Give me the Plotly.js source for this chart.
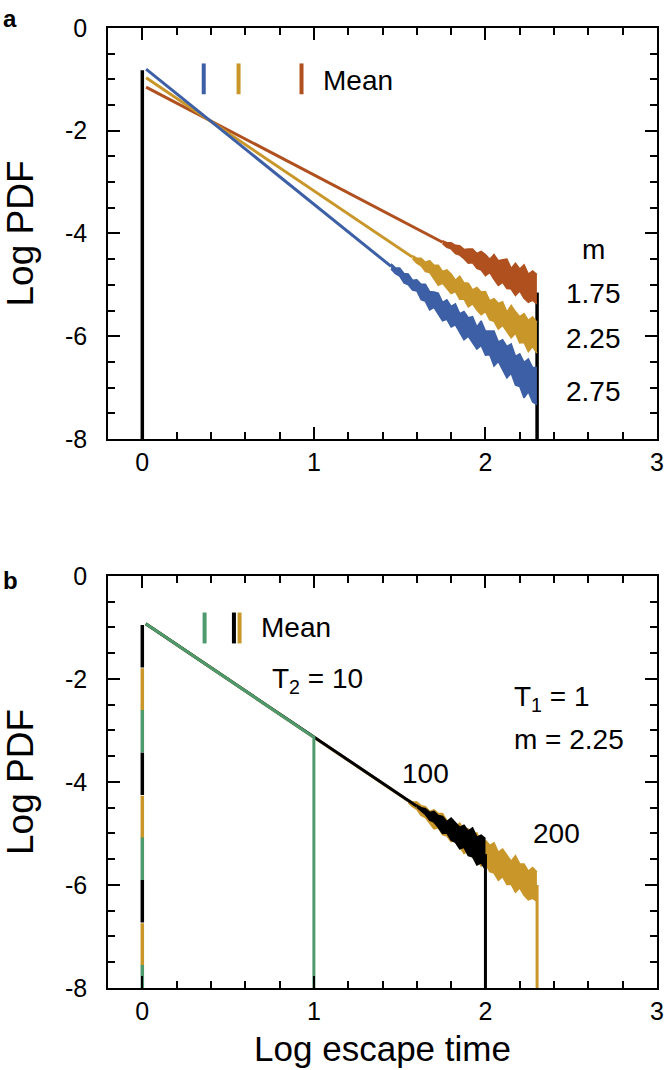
<!DOCTYPE html>
<html>
<head>
<meta charset="utf-8">
<script src="https://cdn.plot.ly/plotly-3.0.1.min.js"></script>
<style>
  body { margin: 0; background: #fff; }
  #myDiv { width: 666px; height: 1070px; }
</style>
</head>
<body>
<div id="myDiv"></div>
<script>
// ---- panel a: mean lines for m = 2.75 (blue), 2.25 (yellow), 1.75 (orange)
const blueX = [0.022, 1.45];
const blueY = [-0.80, -4.64];
const blueBandX0 = 1.45;
const blueUpper = [-4.59, -4.67, -4.67, -4.78, -4.79, -4.91, -4.90, -4.99, -4.99, -5.13,
  -5.14, -5.16, -5.34, -5.29, -5.42, -5.37, -5.56, -5.52, -5.64, -5.62,
  -5.82, -5.70, -5.90, -5.90, -5.90, -6.11, -6.07, -6.20, -6.15, -6.39,
  -6.34, -6.51, -6.44, -6.61, -6.61];
const blueLower = [-4.69, -4.78, -4.83, -4.96, -5.00, -5.10, -5.12, -5.29, -5.32, -5.49,
  -5.44, -5.58, -5.70, -5.67, -5.82, -5.78, -5.93, -6.07, -6.00, -6.12,
  -6.25, -6.18, -6.37, -6.36, -6.58, -6.49, -6.66, -6.81, -6.72, -6.95,
  -6.98, -7.20, -7.08, -7.28, -7.33];

const yellowX = [0.022, 1.575];
const yellowY = [-0.97, -4.46];
const yellowBandX0 = 1.575;
const yellowUpper = [-4.43, -4.48, -4.48, -4.56, -4.53, -4.62, -4.62, -4.74, -4.71, -4.79,
  -4.91, -4.83, -4.96, -4.97, -5.10, -5.05, -5.14, -5.13, -5.31, -5.27,
  -5.36, -5.33, -5.53, -5.40, -5.52, -5.62, -5.56, -5.69, -5.62, -5.73];
const yellowLower = [-4.49, -4.58, -4.63, -4.74, -4.76, -4.88, -5.01, -4.97, -5.06, -5.17,
  -5.13, -5.28, -5.28, -5.43, -5.37, -5.49, -5.58, -5.52, -5.68, -5.71,
  -5.86, -5.79, -5.91, -6.03, -5.94, -6.13, -6.12, -6.30, -6.20, -6.33];

const orangeX = [0.022, 1.75];
const orangeY = [-1.15, -4.17];
const orangeBandX0 = 1.75;
const orangeUpper = [-4.14, -4.18, -4.18, -4.23, -4.24, -4.31, -4.30, -4.30, -4.39, -4.35,
  -4.41, -4.50, -4.41, -4.53, -4.51, -4.50, -4.68, -4.58, -4.69, -4.61,
  -4.79, -4.73, -4.80];
const orangeLower = [-4.20, -4.27, -4.30, -4.39, -4.42, -4.49, -4.58, -4.57, -4.68, -4.71,
  -4.82, -4.76, -4.89, -5.01, -4.95, -5.07, -5.08, -5.21, -5.12, -5.26,
  -5.34, -5.30, -5.37];

const bandStep = 0.025;

// black edges of the distributions in panel a
const edgeA0X = [0, 0];
const edgeA0Y = [-8, -0.82];
const edgeA1X = [2.301, 2.301];
const edgeA1Y = [-8, -5.15];

// legend bars panel a
const legAX = [0.358, 0.561, 0.928];
const legAY = [-0.69, -1.29];

// m labels panel a
const mLabels = ['m', '1.75', '2.25', '2.75'];
const mLabelY = [-4.32, -5.16, -6.04, -7.08];

// ---- panel b: m = 2.25, T1 = 1, T2 = 10 (green), 100 (black), 200 (yellow)
const greenX = [0.02, 1.0, 1.0];
const greenY = [-0.93, -3.13, -8];

const blackX = [0.02, 1.6];
const blackY = [-0.93, -4.47];
const blackBandX0 = 1.6;
const blackUpper = [-4.45, -4.50, -4.52, -4.59, -4.57, -4.65, -4.67, -4.77, -4.70, -4.80,
  -4.88, -4.84, -4.95, -4.89, -5.07, -5.03, -5.10];
const blackLower = [-4.49, -4.57, -4.63, -4.74, -4.78, -4.88, -5.00, -4.99, -5.13, -5.17,
  -5.30, -5.27, -5.43, -5.45, -5.61, -5.57, -5.70];
const blackDropX = [2.0, 2.0];
const blackDropY = [-5.40, -8];

const yellowBX = [0.02, 1.55];
const yellowBY = [-0.93, -4.365];
const yellowBBandX0 = 1.55;
const yellowBUpper = [-4.34, -4.39, -4.39, -4.46, -4.48, -4.57, -4.54, -4.61, -4.61, -4.75,
  -4.75, -4.87, -4.80, -4.93, -4.91, -5.01, -4.99, -5.18, -5.13, -5.23,
  -5.18, -5.36, -5.30, -5.41, -5.54, -5.43, -5.59, -5.59, -5.73, -5.66,
  -5.75];
const yellowBLower = [-4.40, -4.48, -4.53, -4.65, -4.69, -4.79, -4.91, -4.89, -5.02, -5.05,
  -5.16, -5.13, -5.26, -5.39, -5.34, -5.47, -5.49, -5.63, -5.58, -5.74,
  -5.77, -5.91, -5.84, -5.99, -5.99, -6.14, -6.06, -6.20, -6.29, -6.26,
  -6.32];
const yellowBDropX = [2.301, 2.301];
const yellowBDropY = [-6.0, -8];

// left edge at x = 0, shared by the three curves (drawn dashed in turn)
const edgeB0Top = [-0.95, -1.79, -2.60];   // black, yellow, green

// legend bars panel b
const legBX = [0.363, 0.534, 0.567];
const legBY = [-0.71, -1.31];

// axis ticks
const xTicks = [0, 1, 2, 3];
const yTicks = [0, -2, -4, -6, -8];
const yTickText = ['0', '-2', '-4', '-6', '-8'];

const BLUE = '#3c5fa6';
const YELLOW = '#c9962a';
const ORANGE = '#b0501f';
const GREEN = '#4f9a6c';
const FONT = 'Liberation Sans, Arial, Helvetica, sans-serif';
const PAD = '\u00a0\u00a0';   // gap between y tick labels and the frame

function line(x, y, color, width, xa, ya, dash) {
  return {
    x: x, y: y, xaxis: xa, yaxis: ya,
    type: 'scatter', mode: 'lines',
    line: { color: color, width: width, dash: dash || 'solid' },
    hoverinfo: 'skip', showlegend: false
  };
}

// noisy tail: upper edge, then lower edge filled up to it
function band(x0, upper, lower, color, xa, ya) {
  return [
    { x0: x0, dx: bandStep, y: upper, xaxis: xa, yaxis: ya, type: 'scatter', mode: 'lines',
      line: { color: color, width: 1.5 }, hoverinfo: 'skip', showlegend: false },
    { x0: x0, dx: bandStep, y: lower, xaxis: xa, yaxis: ya, type: 'scatter', mode: 'lines',
      line: { color: color, width: 1.5 }, fill: 'tonexty', fillcolor: color,
      hoverinfo: 'skip', showlegend: false }
  ];
}

const dataGrafica = [].concat(
  // panel a
  line(edgeA0X, edgeA0Y, 'black', 3.5, 'x', 'y'),
  line(edgeA1X, edgeA1Y, 'black', 3.5, 'x', 'y'),
  line(orangeX, orangeY, ORANGE, 3, 'x', 'y'),
  band(orangeBandX0, orangeUpper, orangeLower, ORANGE, 'x', 'y'),
  line(yellowX, yellowY, YELLOW, 3, 'x', 'y'),
  band(yellowBandX0, yellowUpper, yellowLower, YELLOW, 'x', 'y'),
  line(blueX, blueY, BLUE, 3, 'x', 'y'),
  band(blueBandX0, blueUpper, blueLower, BLUE, 'x', 'y'),
  line([legAX[0], legAX[0]], legAY, BLUE, 4, 'x', 'y'),
  line([legAX[1], legAX[1]], legAY, YELLOW, 4, 'x', 'y'),
  line([legAX[2], legAX[2]], legAY, ORANGE, 4, 'x', 'y'),
  // panel b
  line([0, 0], [edgeB0Top[0], -8], 'black', 3.5, 'x2', 'y2', '42.5px,85px'),
  line([0, 0], [edgeB0Top[1], -8], YELLOW, 3.5, 'x2', 'y2', '42.5px,85px'),
  line([0, 0], [edgeB0Top[2], -8], GREEN, 3.5, 'x2', 'y2', '42.5px,85px'),
  line(yellowBX, yellowBY, YELLOW, 3, 'x2', 'y2'),
  band(yellowBBandX0, yellowBUpper, yellowBLower, YELLOW, 'x2', 'y2'),
  line(yellowBDropX, yellowBDropY, YELLOW, 3, 'x2', 'y2'),
  line(blackX, blackY, 'black', 3, 'x2', 'y2'),
  band(blackBandX0, blackUpper, blackLower, 'black', 'x2', 'y2'),
  line(blackDropX, blackDropY, 'black', 3, 'x2', 'y2'),
  line(greenX, greenY, GREEN, 3, 'x2', 'y2'),
  line([legBX[0], legBX[0]], legBY, GREEN, 4, 'x2', 'y2'),
  line([legBX[1], legBX[1]], legBY, 'black', 4, 'x2', 'y2'),
  line([legBX[2], legBX[2]], legBY, YELLOW, 4, 'x2', 'y2')
);

function xAxis(anchor, withTitle) {
  const ax = {
    anchor: anchor, range: [-0.2, 3],
    tickmode: 'array', tickvals: xTicks,
    ticks: 'inside', ticklen: 12, tickwidth: 2, tickcolor: 'black',
    minor: { dtick: 0.2, tick0: 0, ticks: 'inside', ticklen: 7, tickwidth: 2, tickcolor: 'black' },
    showline: true, linewidth: 2, linecolor: 'black', mirror: 'allticks',
    showgrid: false, zeroline: false,
    tickfont: { family: FONT, size: 25, color: 'black' }
  };
  if (withTitle) {
    ax.title = { text: 'Log escape time', standoff: 12, font: { family: FONT, size: 35, color: 'black' } };
  }
  return ax;
}

function yAxis(anchor, domain) {
  return {
    anchor: anchor, domain: domain, range: [-8, 0],
    tickmode: 'array', tickvals: yTicks,
    ticktext: yTickText.map(function (t) { return t + PAD; }),
    ticks: 'inside', ticklen: 12, tickwidth: 2, tickcolor: 'black',
    minor: { dtick: 0.5, tick0: 0, ticks: 'inside', ticklen: 7, tickwidth: 2, tickcolor: 'black' },
    showline: true, linewidth: 2, linecolor: 'black', mirror: 'allticks',
    showgrid: false, zeroline: false,
    tickfont: { family: FONT, size: 25, color: 'black' },
    title: { text: 'Log PDF', standoff: 22, font: { family: FONT, size: 37, color: 'black' } }
  };
}

function note(text, x, y, xr, yr, xanchor, size) {
  return {
    text: text, x: x, y: y, xref: xr, yref: yr,
    xanchor: xanchor || 'center', yanchor: 'middle',
    showarrow: false, font: { family: FONT, size: size || 28, color: 'black' }
  };
}

const annotations = [
  note('<b>a</b>', -0.178, 1.01, 'paper', 'paper', 'center', 24),
  note('<b>b</b>', -0.178, 0.425, 'paper', 'paper', 'center', 24),
  note('Mean', 1.04, -1.02, 'x', 'y', 'left'),
  note('Mean', 0.68, -1.01, 'x2', 'y2', 'left'),
  note('T<sub>2</sub> = 10', 0.743, -2.02, 'x2', 'y2', 'left'),
  note('T<sub>1</sub> = 1', 2.156, -2.38, 'x2', 'y2', 'left'),
  note('m = 2.25', 2.156, -3.18, 'x2', 'y2', 'left'),
  note('100', 1.65, -3.83, 'x2', 'y2'),
  note('200', 2.415, -5.0, 'x2', 'y2')
];
mLabels.forEach(function (t, i) {
  annotations.push(note(t, 2.63, mLabelY[i], 'x', 'y'));
});

var layout = {
  width: 666, height: 1070,
  margin: { l: 108, r: 9, t: 28, b: 82 },
  xaxis: xAxis('y', false),
  yaxis: yAxis('x', [0.5719, 1]),
  xaxis2: xAxis('y2', true),
  yaxis2: yAxis('x2', [0, 0.4292]),
  annotations: annotations,
  showlegend: false
};

Plotly.newPlot('myDiv', dataGrafica, layout, { displayModeBar: false });
</script>
</body>
</html>
